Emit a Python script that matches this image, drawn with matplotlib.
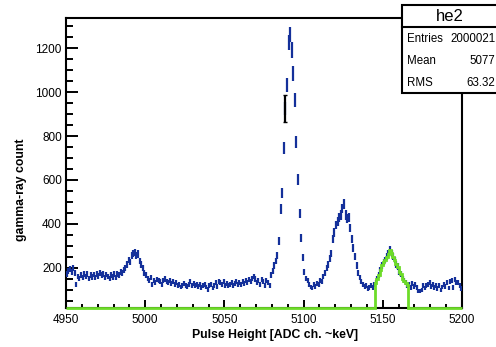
import numpy as np
import matplotlib
matplotlib.use("Agg")
import matplotlib.pyplot as plt
from matplotlib.patches import Rectangle
from matplotlib.lines import Line2D
from matplotlib.ticker import MultipleLocator

plt.rcParams['font.family'] = ['Liberation Sans', 'DejaVu Sans']

# ---- data ----
bin_start = 4950          # first bin lower edge, 1 channel per bin
counts = [
    170, 185, 195, 180, 200, 175, 125, 160, 150, 165,   # 4950-4959
    155, 170, 160, 172, 150, 165, 158, 168, 155, 170,   # 4960-4969
    162, 175, 165, 170, 155, 168, 160, 150, 165, 158,   # 4970-4979
    170, 155, 172, 165, 180, 175, 190, 200, 215, 235,   # 4980-4989
    225, 255, 265, 270, 255, 262, 230, 215, 200, 175,   # 4990-4999
    165, 150, 140, 155, 125, 140, 132, 145, 140, 135,   # 5000-5009
    125, 140, 148, 138, 130, 142, 128, 135, 125, 130,   # 5010-5019
    118, 125, 112, 120, 128, 118, 115, 125, 135, 120,   # 5020-5029
    128, 118, 125, 115, 122, 110, 118, 125, 112, 100,   # 5030-5039
    118, 125, 108, 120, 130, 115, 138, 130, 125, 135,   # 5040-5049
    120, 128, 118, 125, 130, 120, 128, 135, 125, 130,   # 5050-5059
    122, 135, 128, 140, 132, 145, 138, 150, 160, 148,   # 5060-5069
    130, 140, 125, 145, 135, 120, 140, 130, 120, 165,   # 5070-5079
    185, 210, 230, 255, 322, 467, 540, 745, 925, 1033,  # 5080-5089
    1225, 1262, 1192, 1086, 964, 774, 603, 448, 334, 246,  # 5090-5099
    180, 150, 140, 125, 112, 108, 122, 115, 128, 125,   # 5100-5109
    140, 135, 160, 175, 200, 215, 240, 265, 330, 360,   # 5110-5119
    395, 410, 430, 440, 470, 490, 440, 425, 430, 380,   # 5120-5129
    330, 290, 250, 210, 175, 155, 135, 125, 115, 120,   # 5130-5139
    105, 110, 118, 110, 125, 130, 150, 165, 190, 210,   # 5140-5149
    225, 235, 250, 262, 280, 265, 250, 235, 215, 205,   # 5150-5159
    180, 170, 150, 140, 130, 120, 125, 110, 128, 115,   # 5160-5169
    122, 110, 95, 92, 98, 120, 108, 118, 125, 130,      # 5170-5179
    115, 125, 110, 118, 105, 120, 98, 112, 125, 115,    # 5180-5189
    130, 108, 135, 140, 110, 145, 132, 130, 120, 105,   # 5190-5199
]
green_range = (5145, 5166)        # selected (green) bins
black_bin = 5088                  # single bin drawn in black
black_value, black_err = 925, 60
stats_title = "he2"
stats_rows = [("Entries", "2000021"), ("Mean", "5077"), ("RMS", "63.32")]
xlim = (4950, 5200)
ylim = (16, 1338)

counts = np.array(counts, dtype=float)
edges = bin_start + np.arange(len(counts) + 1)
centers = edges[:-1] + 0.5

BLUE = '#14309a'
GREEN = '#6ddc28'

W, H = 496, 347
fig = plt.figure(figsize=(W / 100, H / 100), dpi=100)
ax = fig.add_axes([66 / W, 1 - 308 / H, (462 - 66) / W, (308 - 18) / H])

ax.errorbar(centers, counts, yerr=np.sqrt(counts), fmt='none',
            ecolor=BLUE, elinewidth=1.6, capsize=0, zorder=3)

# green selected-range histogram (zero outside the range, shown on the axis floor)
gvals = np.where((edges[:-1] >= green_range[0]) & (edges[:-1] < green_range[1]),
                 counts, ylim[0])
ax.stairs(gvals, edges, color=GREEN, linewidth=2.0, baseline=None,
          zorder=4, clip_on=False)

# black bin
ax.errorbar([black_bin + 0.5], [black_value], yerr=[black_err], fmt='none',
            ecolor='black', elinewidth=1.6, capsize=1.2, zorder=5)

ax.set_xlim(*xlim)
ax.set_ylim(*ylim)
ax.xaxis.set_major_locator(MultipleLocator(50))
ax.xaxis.set_minor_locator(MultipleLocator(10))
ax.yaxis.set_major_locator(MultipleLocator(200))
ax.yaxis.set_minor_locator(MultipleLocator(50))
ax.tick_params(axis='both', which='both', direction='in', labelsize=8.5,
               width=1.4, top=False, right=False)
ax.tick_params(axis='x', which='major', length=5.8, pad=4)
ax.tick_params(axis='x', which='minor', length=2.9)
ax.tick_params(axis='y', which='major', length=8.5, pad=3)
ax.tick_params(axis='y', which='minor', length=4.8)
ax.set_yticks([200, 400, 600, 800, 1000, 1200])
for s in ax.spines.values():
    s.set_linewidth(1.5)
    s.set_zorder(2)

fig.text(275 / W, 1 - 335 / H, "Pulse Height [ADC ch. ~keV]",
         ha='center', va='center', fontsize=8.8, fontweight='bold')
fig.text(21 / W, 1 - 190 / H, "gamma-ray count", rotation=90,
         ha='center', va='center', fontsize=8.8, fontweight='bold')

# stats box
bx0, by_top, by_head, by_bot = 402, 5, 27, 93
fig.add_artist(Rectangle((bx0 / W, 1 - by_bot / H), (W + 20 - bx0) / W,
                         (by_bot - by_top) / H, transform=fig.transFigure,
                         facecolor='white', edgecolor='black', linewidth=1.5,
                         zorder=10))
fig.add_artist(Line2D([bx0 / W, 1.05], [1 - by_head / H] * 2,
                      transform=fig.transFigure, color='black', linewidth=1.5,
                      zorder=11))
fig.text(450 / W, 1 - 16.5 / H, stats_title, ha='center', va='center',
         fontsize=12, zorder=12)
for i, (k, v) in enumerate(stats_rows):
    yy = 1 - (39 + 22 * i) / H
    fig.text(407 / W, yy, k, ha='left', va='center', fontsize=8.3, zorder=12)
    fig.text(495.5 / W, yy, v, ha='right', va='center', fontsize=8.3, zorder=12)

fig.savefig("out.png", dpi=100)
